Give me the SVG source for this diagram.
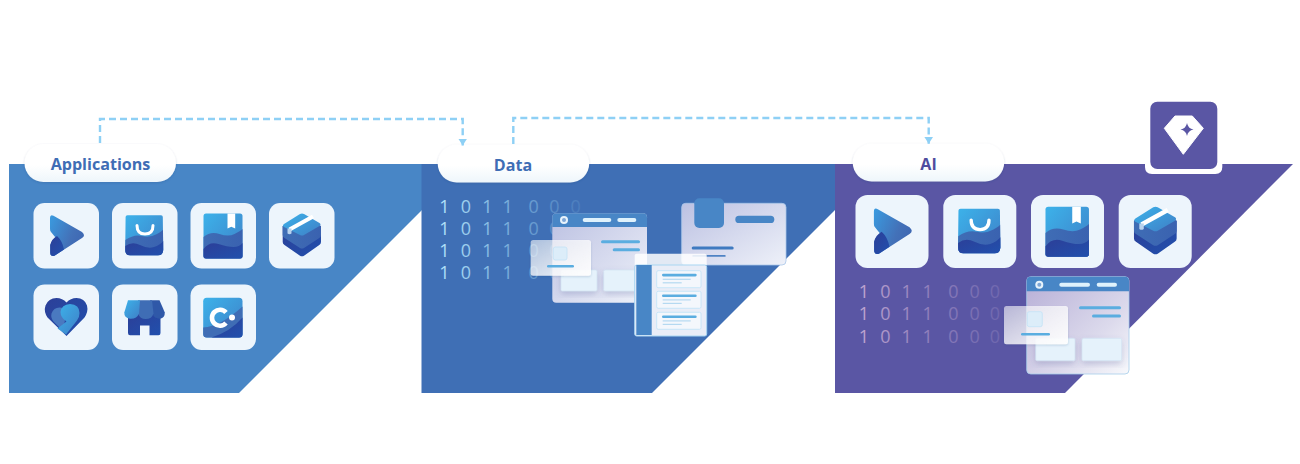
<svg xmlns="http://www.w3.org/2000/svg" width="1300" height="464" viewBox="0 0 1300 464">
<style>
.lbl{font-family:"Open Sans","Liberation Sans",sans-serif;font-weight:700;font-size:16.1px;text-anchor:middle;dominant-baseline:central}
.bin{font-family:"Open Sans","Liberation Sans",sans-serif;font-weight:400;font-size:18px;text-anchor:middle}
.conn{fill:none;stroke:#8ed0f5;stroke-width:2.4;stroke-dasharray:7 4}
.tile{fill:#edf5fc}
.hdr{fill:#4886c6}
.pl{fill:#dff2fc}
.ln{fill:#5aade0}
.sub{fill:#e5f2fb;stroke:#cfe0f2;stroke-width:.6}
.sq{fill:#dcedf9;stroke:#c3e2f6;stroke-width:.8}
</style>
<defs>
<linearGradient id="pill" x1="0" y1="0" x2="0" y2="1"><stop offset="0" stop-color="#fff"/><stop offset=".55" stop-color="#fff"/><stop offset="1" stop-color="#eef6fb"/></linearGradient>
<linearGradient id="lt" x1="0" y1="0" x2="1" y2="1"><stop offset="0" stop-color="#3cb2ea"/><stop offset="1" stop-color="#3f7fc6"/></linearGradient>
<linearGradient id="mid" x1="0" y1="0" x2="1" y2="0"><stop offset="0" stop-color="#3f6db5"/><stop offset="1" stop-color="#3a62b0"/></linearGradient>
<linearGradient id="drk" x1="0" y1="0" x2="1" y2="1"><stop offset="0" stop-color="#2c3f98"/><stop offset="1" stop-color="#2150ad"/></linearGradient>
<linearGradient id="play" x1="0" y1="0" x2="1" y2=".5"><stop offset="0" stop-color="#3a9be0"/><stop offset=".7" stop-color="#4371b8"/><stop offset="1" stop-color="#3f68b3"/></linearGradient>
<linearGradient id="winD" x1="0" y1="0" x2="1" y2="1"><stop offset="0" stop-color="#bcc1e2"/><stop offset="1" stop-color="#eef1f9"/></linearGradient>
<linearGradient id="winA" x1="0" y1="0" x2="1" y2="1"><stop offset="0" stop-color="#b6aed6"/><stop offset=".65" stop-color="#dcdaec"/><stop offset="1" stop-color="#f8f9fc"/></linearGradient>
<linearGradient id="ovl" x1="0" y1="0" x2="1" y2="1"><stop offset="0" stop-color="#fff" stop-opacity=".55"/><stop offset="1" stop-color="#fff" stop-opacity=".95"/></linearGradient>
<linearGradient id="binD" gradientUnits="userSpaceOnUse" x1="440" y1="0" x2="585" y2="0"><stop offset="0" stop-color="#b4e4fa"/><stop offset=".5" stop-color="#9bd2f0" stop-opacity=".6"/><stop offset="1" stop-color="#8ec6ea" stop-opacity=".12"/></linearGradient>
<linearGradient id="binA" gradientUnits="userSpaceOnUse" x1="860" y1="0" x2="1005" y2="0"><stop offset="0" stop-color="#c0a6d0"/><stop offset=".5" stop-color="#a48ec4" stop-opacity=".7"/><stop offset="1" stop-color="#9a8cc4" stop-opacity=".3"/></linearGradient>
<filter id="sh" x="-10%" y="-20%" width="120%" height="150%"><feDropShadow dx="0" dy="1" stdDeviation="1.2" flood-color="#1d3d78" flood-opacity=".22"/></filter>
<filter id="sh2" x="-20%" y="-20%" width="140%" height="150%"><feDropShadow dx="0" dy="3" stdDeviation="3" flood-color="#4a4f90" flood-opacity=".25"/></filter>
<marker id="arr" markerUnits="userSpaceOnUse" markerWidth="10" markerHeight="9" refX="7" refY="4.500" orient="auto"><path d="M0 0L7 4.500L0 9Z" fill="#8ed0f5"/></marker>

<symbol id="i-play" viewBox="0 0 65.5 65.5">
<path d="M16.500 15Q16.500 11 20 12.700L48.500 29Q52.500 32.500 48.500 35L21 52.700Q16.500 54 16.700 49L16.700 42Q18 38 22 34.500L17.500 29Q16.500 28 16.500 26Z" fill="url(#play)"/>
<path d="M16.700 42Q18 36 23.500 33Q29 38 30.500 46.500L21 52.700Q16.500 54 16.700 49Z" fill="url(#drk)"/>
</symbol>
<symbol id="i-bag" viewBox="0 0 65.5 65.5">
<path d="M15.500 12.300H49Q50.800 12.300 50.800 14L51.200 47Q51 52.300 46 52.300H18Q13.200 52.300 13.200 47L13.600 14Q13.600 12.300 15.500 12.300Z" fill="url(#lt)"/>
<path d="M13.400 37Q22 31 30 33T45 31T51 26L51.200 47Q51 52.300 46 52.300H18Q13.200 52.300 13.200 47Z" fill="url(#mid)"/>
<path d="M13.300 43Q20 38 28 42T42 44T51.200 38V47Q51 52.300 46 52.300H18Q13.200 52.300 13.300 47Z" fill="url(#drk)"/>
<path d="M25 22.500Q25 31 33 31T41 22.500" fill="none" stroke="#fff" stroke-width="3" stroke-linecap="round"/>
</symbol>
<symbol id="i-book" viewBox="0 0 65.5 65.5">
<rect x="13" y="10.500" width="39" height="45" rx="2.500" fill="url(#lt)"/>
<path d="M13 34Q20 28 29 31T44 31T52 26V53Q52 55.500 49.500 55.500H15.500Q13 55.500 13 53Z" fill="url(#mid)"/>
<path d="M13 46Q19 38 28 41T43 44T52 40V53Q52 55.500 49.500 55.500H15.500Q13 55.500 13 53Z" fill="url(#drk)"/>
<path d="M37 10.500H44.700V25.500L40.800 23.800L37 25.500Z" fill="#fff"/>
</symbol>
<symbol id="i-box" viewBox="0 0 65.5 65.5">
<path d="M13.700 23V39Q13.700 41 15.500 42L31 52.700Q33 53.700 35 52.700L50.300 42Q52 41 52 39V23Z" fill="url(#drk)"/>
<path d="M13.700 23V32Q13.700 34 15.500 35L31 45Q33 46 35 45L50.300 35Q52 34 52 32V23L33 12Z" fill="url(#mid)"/>
<path d="M15 21L31 11Q33 10 35 11L50.500 20Q52.500 21.500 50.500 23L35 32Q33 33 31 32L15 24Q13 22.500 15 21Z" fill="url(#lt)"/>
<path d="M20.500 26.500L44 13.500" stroke="#fff" stroke-width="4" fill="none"/>
<path d="M18.500 25.500H22.500V30.500Q20.500 32 18.500 30.500Z" fill="#b9d3ee"/>
</symbol>
<symbol id="i-heart" viewBox="0 0 65.500 65.500">
<path d="M33 51.500L14 33Q10 27 12 21Q15 13.500 23 13.500Q29 13.500 33 18Q37 13.500 43 13.500Q51 13.500 53.500 21Q55 27 51 33Z" fill="url(#drk)"/>
<path d="M33 50L20 37Q17 33 18 29Q20 23 26 23Q31 23 33 27L31 38Z" fill="#4a79c0"/>
<path d="M24 44L33 37Q27 33 27 27.500Q28 20 36.500 19.500Q46 20 46 28.500Q46 33 43.500 36L32.500 50Z" fill="url(#lt)"/>
</symbol>
<symbol id="i-store" viewBox="0 0 65.500 65.500">
<path d="M16 28H48.500V48.500Q48.500 50.700 46.500 50.700H37.500V41H28V50.700H18Q16 50.700 16 48.500Z" fill="url(#drk)"/>
<path d="M38 15.700H47.500L52.800 28Q53 33.500 48 34.200Q42 34.200 40.500 29Z" fill="#2f58a8"/>
<path d="M26 15.700H40L41.500 29Q40 34.500 33.500 34.500Q28 34.500 26 29Z" fill="#3f6db5"/>
<path d="M16 15.700H28L27 29Q25 34.500 18 34.200Q12 33.500 12.300 28Z" fill="url(#lt)"/>
</symbol>
<symbol id="i-c" viewBox="0 0 65.500 65.500">
<rect x="12.700" y="13.300" width="39.300" height="39.700" rx="3.500" fill="url(#lt)"/>
<path d="M12.700 43Q30 42 52 22V49.500Q52 53 48.500 53H16.200Q12.700 53 12.700 49.500Z" fill="#3f6db5"/>
<path d="M21 53Q40 47 52 33V49.500Q52 53 48.500 53Z" fill="url(#drk)"/>
<path d="M35.500 28A8 8 0 1 0 35.500 38.500" fill="none" stroke="#fff" stroke-width="4.600"/>
<circle cx="41.500" cy="33" r="3" fill="#fff"/>
</symbol>
</defs>

<rect width="1300" height="464" fill="#fff"/>

<g id="panel-applications"><path d="M9 164H422V210L239 393H9Z" fill="#4886c6"/></g>
<g id="panel-data"><path d="M421.500 164H835V210L652 393H421.500Z" fill="#3f6fb5"/></g>
<g id="panel-ai">
<path d="M835 164H1293L1065 393H835Z" fill="#5a56a4"/>
</g>

<g id="node-applications"><rect x="24.500" y="144" width="151.500" height="38" rx="19" fill="url(#pill)" filter="url(#sh)"/><text class="lbl" x="100.500" y="163.500" fill="#3f6db5">Applications</text></g>
<g id="node-data"><rect x="437.700" y="144.500" width="151.500" height="38" rx="19" fill="url(#pill)" filter="url(#sh)"/><text class="lbl" x="513" y="164.500" fill="#3f6db5">Data</text></g>
<g id="node-ai"><rect x="852.700" y="143.500" width="151.500" height="38" rx="19" fill="url(#pill)" filter="url(#sh)"/><text class="lbl" x="928.500" y="163.500" fill="#4f4c9e">AI</text></g>

<g id="connectors">
<path class="conn" d="M100 143V119H462.700V145.500" marker-end="url(#arr)"/>
<path class="conn" d="M513.300 144V118H928.700V143.700" marker-end="url(#arr)"/>
</g>

<g id="node-badge">
<path d="M1145 164H1222.300V167Q1222.300 174 1215.300 174H1152Q1145 174 1145 167Z" fill="#fff"/>
<rect x="1150.300" y="101.700" width="67" height="67.300" rx="7" fill="#5a56a4"/>
<path d="M1164.300 128.300L1175 116H1192.300L1203.300 128.300L1183.300 154.300Z" fill="#fff" stroke="#fff" stroke-linejoin="round"/>
<path d="M1187 123Q1188 128.500 1193.500 129.500Q1188 130.500 1187 136Q1186 130.500 1180.500 129.500Q1186 128.500 1187 123Z" fill="#5a56a4"/>
</g>

<g id="app-icons">
<g id="app-1"><rect class="tile" x="33.500" y="203" width="65.500" height="65.500" rx="11"/><use href="#i-play" x="33.500" y="203" width="65.500" height="65.500"/></g>
<g id="app-2"><rect class="tile" x="112" y="203" width="65.500" height="65.500" rx="11"/><use href="#i-bag" x="112" y="203" width="65.500" height="65.500"/></g>
<g id="app-3"><rect class="tile" x="190.500" y="203" width="65.500" height="65.500" rx="11"/><use href="#i-book" x="190.500" y="203" width="65.500" height="65.500"/></g>
<g id="app-4"><rect class="tile" x="269" y="203" width="65.500" height="65.500" rx="11"/><use href="#i-box" x="269" y="203" width="65.500" height="65.500"/></g>
<g id="app-5"><rect class="tile" x="33.500" y="284.500" width="65.500" height="65.500" rx="11"/><use href="#i-heart" x="33.500" y="284.500" width="65.500" height="65.500"/></g>
<g id="app-6"><rect class="tile" x="112" y="284.500" width="65.500" height="65.500" rx="11"/><use href="#i-store" x="112" y="284.500" width="65.500" height="65.500"/></g>
<g id="app-7"><rect class="tile" x="190.500" y="284.500" width="65.500" height="65.500" rx="11"/><use href="#i-c" x="190.500" y="284.500" width="65.500" height="65.500"/></g>
</g>

<g id="data-binary" fill="url(#binD)">
<text class="bin" y="212.500" x="444.500 455 466 476.600 487.300 497.500 507.700 520.700 533.700 544 554.300 565 575.700">1 0 1 1 0 0 0</text>
<text class="bin" y="234.500" x="444.500 455 466 476.600 487.300 497.500 507.700 520.700 533.700 544 554.300 565 575.700">1 0 1 1 0 0 0</text>
<text class="bin" y="256.500" x="444.500 455 466 476.600 487.300 497.500 507.700 520.700 533.700 544 554.300 565 575.700">1 0 1 1 0 0 0</text>
<text class="bin" y="278.500" x="444.500 455 466 476.600 487.300 497.500 507.700 520.700 533.700 544 554.300 565 575.700">1 0 1 1 0 0 0</text>
</g>

<g id="data-window">
<rect x="552.300" y="213.300" width="94.700" height="89.400" rx="4" fill="url(#winD)"/>
<path d="M552.300 227V217.300Q552.300 213.300 556.300 213.300H643Q647 213.300 647 217.300V227Z" class="hdr"/>
<circle cx="564" cy="220" r="4" fill="#e8f3fb"/><circle cx="564" cy="220" r="2" fill="#7fa7d6"/>
<rect class="pl" x="582.700" y="218" width="28.600" height="4" rx="2"/>
<rect class="pl" x="617.300" y="218" width="19" height="4" rx="2"/>
<rect class="ln" x="601" y="240.200" width="39" height="3" rx="1.500"/>
<rect class="ln" x="612.700" y="248.200" width="27.300" height="3" rx="1.500"/>
<rect class="sub" x="561" y="270" width="36" height="21" rx="1.500" filter="url(#sh2)"/>
<rect class="sub" x="603.700" y="270" width="36" height="21" rx="1.500" filter="url(#sh2)"/>
</g>
<g id="data-overlay">
<rect x="530.700" y="240" width="60.300" height="35.700" rx="2.500" fill="url(#ovl)" filter="url(#sh)"/>
<rect class="sq" x="553.300" y="247" width="13.700" height="13" rx="2"/>
<rect class="ln" x="547" y="265" width="27" height="2.600" rx="1.300"/>
</g>
<g id="data-card">
<rect x="681.700" y="203.300" width="104.300" height="61.700" rx="4" fill="url(#winD)" stroke="#a9c6ea" stroke-width=".8"/>
<rect class="hdr" x="694.300" y="198.300" width="29.700" height="29.700" rx="5"/>
<rect class="hdr" x="735.300" y="215.700" width="39" height="7.400" rx="3.700"/>
<rect x="691.700" y="246.500" width="42" height="3" rx="1.500" fill="#3f7ac0"/>
<rect x="692.300" y="255" width="33.400" height="1.800" rx=".9" fill="#4f83c4"/>
</g>
<g id="data-list">
<path d="M634.700 265V255.700Q634.700 253.700 636.700 253.700H704.700Q706.700 253.700 706.700 255.700V265Z" fill="#fff" fill-opacity=".85"/>
<rect x="634.700" y="265" width="72" height="71" rx="2" fill="#e9edf7" stroke="#a9d6f2" stroke-width="1"/>
<rect class="hdr" x="636.300" y="265" width="15.400" height="70"/>
<g fill="#f4f7fc" stroke="#bfe2f7" stroke-width=".8">
<rect x="656.700" y="270.700" width="44.300" height="17" rx="1.500"/>
<rect x="656.700" y="291.300" width="44.300" height="17" rx="1.500"/>
<rect x="656.700" y="312.300" width="44.300" height="17" rx="1.500"/>
</g>
<rect class="ln" x="662" y="273.800" width="34.700" height="2.600" rx="1.300"/><rect class="ln" x="662" y="294.400" width="34.700" height="2.600" rx="1.300"/><rect class="ln" x="662" y="315.400" width="34.700" height="2.600" rx="1.300"/>
<g fill="#b5d9f1"><rect x="662.700" y="278.700" width="28" height="1.200"/><rect x="662.700" y="282.200" width="19" height="1.200"/><rect x="662.700" y="299.300" width="28" height="1.200"/><rect x="662.700" y="302.800" width="19" height="1.200"/><rect x="662.700" y="320.300" width="28" height="1.200"/><rect x="662.700" y="323.800" width="19" height="1.200"/></g>
</g>

<g id="ai-icons">
<g id="ai-1"><rect class="tile" x="855.500" y="195" width="73" height="73" rx="12"/><use href="#i-play" x="855.500" y="195" width="73" height="73"/></g>
<g id="ai-2"><rect class="tile" x="943.300" y="195" width="73" height="73" rx="12"/><use href="#i-bag" x="943.300" y="195" width="73" height="73"/></g>
<g id="ai-3"><rect class="tile" x="1031" y="195" width="73" height="73" rx="12"/><use href="#i-book" x="1031" y="195" width="73" height="73"/></g>
<g id="ai-4"><rect class="tile" x="1118.700" y="195" width="73" height="73" rx="12"/><use href="#i-box" x="1118.700" y="195" width="73" height="73"/></g>
</g>

<g id="ai-binary" fill="url(#binA)">
<text class="bin" y="298" x="864 874.600 885.300 896 906.700 917.200 927.700 940.500 953.300 964 974.700 985 995">1 0 1 1 0 0 0</text>
<text class="bin" y="320" x="864 874.600 885.300 896 906.700 917.200 927.700 940.500 953.300 964 974.700 985 995">1 0 1 1 0 0 0</text>
<text class="bin" y="342.500" x="864 874.600 885.300 896 906.700 917.200 927.700 940.500 953.300 964 974.700 985 995">1 0 1 1 0 0 0</text>
</g>

<g id="ai-window">
<rect x="1026.700" y="276.700" width="102.300" height="97.300" rx="4" fill="url(#winA)" stroke="#a6cdea" stroke-width=".8"/>
<path d="M1026.700 291.300V280.700Q1026.700 276.700 1030.700 276.700H1125Q1129 276.700 1129 280.700V291.300Z" class="hdr"/>
<circle cx="1039.300" cy="284.700" r="4" fill="#e8f3fb"/><circle cx="1039.300" cy="284.700" r="2" fill="#7fa7d6"/>
<rect class="pl" x="1059.300" y="282.700" width="30.700" height="4" rx="2"/>
<rect class="pl" x="1096.700" y="282.700" width="20.300" height="4" rx="2"/>
<rect class="ln" x="1079" y="306.200" width="42" height="3" rx="1.500"/>
<rect class="ln" x="1092" y="314.500" width="29" height="3" rx="1.500"/>
<rect class="sub" x="1035.700" y="338.300" width="39.300" height="22.400" rx="1.500" filter="url(#sh2)"/>
<rect class="sub" x="1082" y="338.300" width="39.700" height="22.400" rx="1.500" filter="url(#sh2)"/>
</g>
<g id="ai-overlay">
<rect x="1004" y="306" width="64" height="38.300" rx="2.500" fill="url(#ovl)" filter="url(#sh)"/>
<rect class="sq" x="1027.300" y="311.700" width="15" height="15" rx="2"/>
<rect class="ln" x="1021" y="333" width="29" height="2.600" rx="1.300"/>
</g>
</svg>
